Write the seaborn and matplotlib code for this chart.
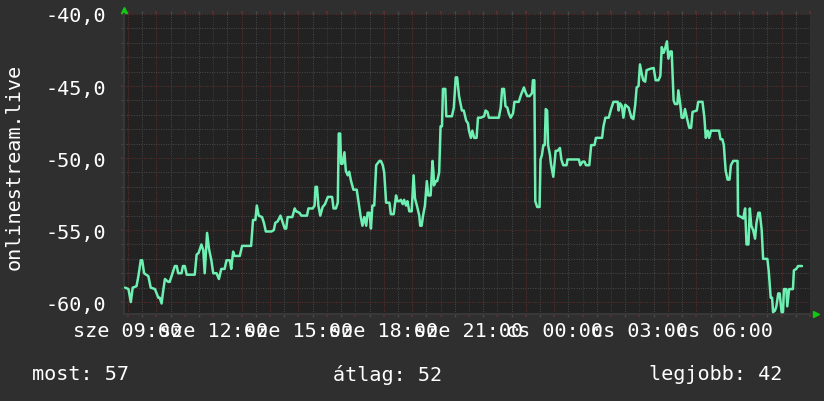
import matplotlib
matplotlib.use("Agg")
import matplotlib.pyplot as plt
import pandas as pd
import seaborn as sns

# minutes after "sze 09:00", and the rank at that moment (drawn negated)
minutes = [
    -6, 1, 6, 10, 18, 22, 27, 30, 34, 43, 48, 57, 64, 67, 71, 74, 78, 85, 88, 92,
    99, 103, 106, 113, 116, 120, 124, 141, 145, 149, 155, 159, 162, 167, 171, 176, 180, 187, 192, 197,
    204, 208, 215, 218, 222, 225, 236,
    241, 260, 264, 269, 272, 276, 283, 287, 291, 303, 308, 311, 316, 322, 326, 331, 334, 337, 347, 352,
    355, 362, 366, 378, 381, 390, 394, 396, 399, 402, 406, 411, 416, 422, 431, 434, 439, 443, 445, 448,
    450, 453, 457, 460, 464, 467,
    471, 476, 483, 487, 491, 495, 499, 503, 506, 510, 513, 516, 520, 524, 531, 534, 538, 541, 545, 552,
    555, 561, 566, 569, 573, 576, 580, 583, 587, 590, 594, 599, 603, 606, 610, 615, 617, 620, 623, 627,
    631, 634, 639, 643, 645, 646, 650, 653, 657, 660, 663, 665, 670, 672, 684, 688, 692, 695, 699, 705,
    709, 714, 718,
    720, 724, 727, 731, 736, 739, 745, 752, 755, 759, 762, 783, 787, 790, 794, 797, 801, 804, 808, 813,
    816, 825, 830, 836, 839, 843, 848, 853, 855, 858, 860, 864, 869, 871, 874, 877, 880, 882, 885, 887,
    891, 893, 898, 900, 903, 907, 912, 915, 919, 926, 928, 952, 955,
    960, 964, 967, 974, 978, 985, 988, 1001, 1004, 1008, 1015, 1020, 1025, 1034, 1036, 1039, 1043, 1046, 1050, 1057,
    1063, 1067, 1071, 1074, 1078, 1081, 1085, 1088, 1092, 1095, 1103, 1110, 1114, 1120, 1124, 1127, 1131, 1134, 1138, 1141,
    1145, 1148, 1152, 1155, 1160, 1162, 1166, 1169, 1173, 1176, 1180, 1185, 1189,
    1192, 1201, 1204, 1213, 1217, 1220, 1224, 1227, 1231, 1248, 1251, 1255, 1258, 1262, 1266, 1270, 1273, 1278, 1287, 1288,
    1295, 1299, 1303, 1306, 1310, 1313, 1316, 1320, 1324, 1327, 1331, 1334, 1338, 1341, 1350, 1353, 1357, 1360, 1362, 1366,
    1369, 1373, 1376, 1380, 1383, 1385, 1390, 1392, 1396, 1404, 1406, 1411, 1415, 1423,
]
rank = [
    59.0, 59.1, 60.0, 59.0, 58.9, 58.2, 57.1, 57.1, 58.0, 58.2, 59.0, 59.1, 59.7, 59.7, 60.1, 59.3, 58.4, 58.6, 58.6, 58.2,
    57.5, 57.5, 58.0, 58.0, 57.5, 57.5, 58.1, 58.1, 56.7, 56.6, 56.0, 56.4, 58.0, 55.2, 56.3, 57.1, 58.0, 58.0, 58.4, 57.7,
    57.7, 57.1, 57.1, 57.7, 56.5, 56.8, 56.8,
    56.1, 56.1, 54.3, 54.3, 53.3, 54.0, 54.1, 54.5, 55.1, 55.1, 55.0, 54.5, 54.4, 54.0, 54.4, 54.9, 54.9, 54.1, 54.1, 53.5,
    53.7, 53.8, 54.0, 54.0, 53.5, 53.5, 53.3, 52.0, 52.0, 53.3, 54.0, 53.4, 53.2, 52.7, 52.7, 53.5, 53.5, 53.1, 48.3, 48.3,
    50.4, 50.4, 49.6, 50.9, 51.2, 50.95,
    51.6, 52.2, 52.2, 53.1, 54.0, 54.7, 54.1, 54.7, 53.8, 53.8, 54.9, 53.3, 53.3, 50.5, 50.2, 50.2, 50.5, 51.0, 53.1, 53.1,
    53.9, 53.9, 52.6, 53.0, 53.0, 52.9, 53.2, 52.9, 53.3, 53.0, 53.7, 53.7, 51.2, 52.8, 53.3, 54.0, 54.7, 54.7, 54.0, 53.3,
    51.6, 52.6, 52.6, 50.2, 51.0, 51.9, 51.6, 51.6, 51.0, 47.8, 47.8, 45.2, 45.2, 47.1, 47.1, 46.5, 44.4, 44.4, 45.7, 46.7,
    46.7, 47.4, 47.6,
    48.1, 48.6, 48.1, 48.6, 48.6, 47.2, 47.2, 47.1, 46.7, 46.8, 47.2, 47.2, 46.5, 45.2, 45.2, 46.4, 46.5, 46.9, 47.2, 46.9,
    46.1, 46.1, 45.6, 45.1, 45.4, 45.7, 45.7, 45.5, 44.6, 44.6, 53.0, 53.4, 53.4, 50.1, 49.8, 49.1, 49.1, 46.6, 46.7, 49.1,
    49.8, 50.4, 51.3, 50.6, 49.5, 49.5, 49.3, 50.1, 50.5, 50.5, 50.1, 50.1, 50.5,
    50.25, 50.25, 50.5, 50.5, 49.1, 49.1, 48.6, 48.6, 47.8, 47.2, 47.2, 46.6, 46.1, 46.1, 46.7, 46.2, 46.4, 47.2, 46.3, 46.5,
    47.2, 47.3, 46.3, 45.1, 45.0, 43.5, 44.2, 44.6, 44.7, 43.9, 43.8, 43.75, 44.6, 44.6, 44.3, 42.3, 42.7, 42.4, 41.9, 43.1,
    42.6, 42.6, 46.0, 46.25, 46.25, 45.3, 46.25, 47.2, 47.2, 46.6, 47.2, 47.9, 47.9,
    46.8, 46.7, 46.1, 46.1, 47.2, 48.6, 48.1, 48.6, 48.1, 48.1, 48.7, 48.7, 49.1, 50.9, 51.5, 51.5, 50.5, 50.2, 50.2, 54.0,
    54.1, 54.2, 53.5, 56.0, 56.0, 53.5, 54.7, 55.0, 55.6, 54.5, 53.8, 53.8, 55.0, 57.0, 57.0, 57.9, 59.7, 59.7, 60.7, 60.6,
    60.3, 59.4, 59.4, 60.7, 60.7, 59.1, 59.1, 60.3, 59.1, 59.1, 57.8, 57.7, 57.5, 57.5,
]

tick_hours = [9, 12, 15, 18, 21, 24, 27, 30]
tick_labels = ["sze 09:00", "sze 12:00", "sze 15:00", "sze 18:00",
               "sze 21:00", "cs 00:00", "cs 03:00", "cs 06:00"]
y_ticks = [-40, -45, -50, -55, -60]
y_labels = ["-40,0", "-45,0", "-50,0", "-55,0", "-60,0"]
series_name = "onlinestream.live"
summary = ["most: 57", "átlag: 52", "legjobb: 42"]

assert len(minutes) == len(rank)
df = pd.DataFrame({"minutes": minutes, "value": [-r for r in rank]})

BG = "#2f2f2f"
CANVAS = "#222222"
LINE = "#6ef0b2"
MAJOR = "#642e2e"
MINOR = "#4a4a4a"
ARROW = "#12c812"

sns.set_theme(style="dark", rc={"axes.facecolor": CANVAS, "figure.facecolor": BG})
plt.rcParams["font.family"] = ["DejaVu Sans Mono"]
FS = 14.5

fig = plt.figure(figsize=(8.24, 4.02), dpi=100)
ax = fig.add_axes([124 / 824, 87 / 402, 686 / 824, 300 / 402])

sns.lineplot(data=df, x="minutes", y="value", ax=ax, color=LINE, linewidth=1.8,
             estimator=None, sort=False, zorder=3)

ax.set_xlim(-8.4, 1435.8)
ax.set_ylim(-60.83, -40)

# hourly red grid, half-hourly grey grid; labels every 3 hours
hour_ticks = list(range(0, 1441, 60))
label_map = {(h - 9) * 60: lab for h, lab in zip(tick_hours, tick_labels)}
ax.set_xticks(hour_ticks)
ax.set_xticklabels([label_map.get(t, "") for t in hour_ticks])
ax.set_xticks(list(range(30, 1441, 60)), minor=True)
ax.set_yticks(y_ticks)
ax.set_yticklabels(y_labels)
ax.set_yticks(list(range(-60, -40)), minor=True)

ax.grid(which="major", color=MAJOR, linestyle=(0, (1, 1.5)), linewidth=0.7)
ax.grid(which="minor", color=MINOR, linestyle=(0, (1, 1.5)), linewidth=0.7)
ax.set_axisbelow(True)

ax.tick_params(axis="x", which="both", length=2, colors="white", labelsize=FS, pad=3, top=True, bottom=True)
ax.tick_params(axis="y", which="both", length=2, colors="white", labelsize=FS, pad=11, left=True)
ax.tick_params(which="major", color=MAJOR)
ax.tick_params(which="minor", color=MINOR)
ax.set_xlabel("")
ax.set_ylabel("")

for side in ["top", "right"]:
    ax.spines[side].set_visible(False)
for side in ["left", "bottom"]:
    ax.spines[side].set_color("#383838")
    ax.spines[side].set_linewidth(1.5)

# little axis arrows like rrdtool
ax.plot([0], [1.012], marker="^", markersize=5, color=ARROW, transform=ax.transAxes, clip_on=False)
ax.plot([1.009], [0], marker=">", markersize=5, color=ARROW, transform=ax.transAxes, clip_on=False)

fig.text(14 / 824, 1 - 167 / 402, series_name, rotation=90, ha="center", va="center",
         color="white", fontsize=FS)

fig.text(32 / 824, 1 - 375 / 402, summary[0], ha="left", va="center", color="white", fontsize=FS)
fig.text(333 / 824, 1 - 375 / 402, summary[1], ha="left", va="center", color="white", fontsize=FS)
fig.text(649 / 824, 1 - 375 / 402, summary[2], ha="left", va="center", color="white", fontsize=FS)

fig.savefig("out.png", dpi=100, facecolor=BG)
